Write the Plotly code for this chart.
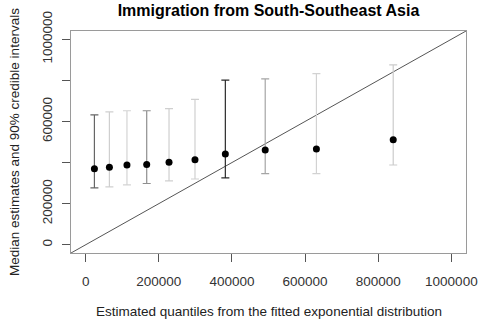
import plotly.graph_objects as go

# Data
quantiles = [24000, 65000, 113000, 167000, 228000, 299000, 382000, 491000, 631000, 841000]
medians   = [370000, 377000, 388000, 391000, 401000, 414000, 442000, 461000, 466000, 511000]
lower     = [277000, 282000, 291000, 298000, 311000, 320000, 325000, 346000, 346000, 388000]
upper     = [632000, 647000, 652000, 652000, 662000, 707000, 801000, 807000, 833000, 875000]

y_tickvals = [0, 200000, 400000, 600000, 800000, 1000000]
y_ticktext = ["0", "200000", "", "600000", "", "1000000"]
x_tickvals = [0, 200000, 400000, 600000, 800000, 1000000]
x_ticktext = ["0", "200000", "400000", "600000", "800000", "1000000"]

# style: apparent grey of each interval line (anti-aliasing in the original)
bar_colors = ["#666666", "#cfcfcf", "#d4d4d4", "#8f8f8f", "#cfcfcf",
              "#d0d0d0", "#2a2a2a", "#a5a5a5", "#d2d2d2", "#cccccc"]

axis_range = [-40000, 1040000]
FONT = "Liberation Sans, Arial, sans-serif"

fig = go.Figure()

# y = x reference line spanning the plot region
fig.add_trace(go.Scatter(x=axis_range, y=axis_range, mode="lines",
                         line=dict(color="#555555", width=1), hoverinfo="skip",
                         showlegend=False))

for i in range(len(quantiles)):
    fig.add_trace(go.Scatter(
        x=[quantiles[i]], y=[medians[i]], mode="markers",
        marker=dict(color="black", size=7),
        error_y=dict(type="data", symmetric=False,
                     array=[upper[i] - medians[i]],
                     arrayminus=[medians[i] - lower[i]],
                     color=bar_colors[i], thickness=1.2, width=4),
        showlegend=False))

fig.update_layout(
    width=482, height=321,
    margin=dict(l=71, r=16, t=31, b=68, autoexpand=False),
    plot_bgcolor="white", paper_bgcolor="white",
    font=dict(family=FONT, size=13, color="#333333"),
    title=dict(text="<b>Immigration from South-Southeast Asia</b>",
               x=0.557, xanchor="center",
               y=0.968, yanchor="middle",
               font=dict(family=FONT, size=16, color="black")),
    xaxis=dict(range=axis_range, tickvals=x_tickvals, ticktext=x_ticktext,
               showgrid=False, zeroline=False, showline=True, mirror=True,
               linecolor="#9a9a9a", linewidth=1, automargin=False,
               ticks="outside", ticklen=8, tickcolor="#555555", tickwidth=1,
               ticklabelstandoff=8,
               tickfont=dict(family=FONT, size=13.5, color="#333333")),
    yaxis=dict(range=axis_range, tickvals=y_tickvals, ticktext=y_ticktext,
               showgrid=False, zeroline=False, showline=True, mirror=True,
               linecolor="#9a9a9a", linewidth=1, automargin=False,
               ticks="outside", ticklen=8, tickcolor="#555555", tickwidth=1,
               tickangle=-90, ticklabelstandoff=5,
               tickfont=dict(family=FONT, size=13.5, color="#333333")),
    annotations=[
        dict(text="Estimated quantiles from the fitted exponential distribution",
             xref="paper", yref="paper", x=0.5, y=0, yshift=-(311.7 - 253),
             xanchor="center", yanchor="middle", showarrow=False,
             font=dict(family=FONT, size=13.5, color="#222222")),
        dict(text="Median estimates and 90% credible intervals",
             xref="paper", yref="paper", x=0, xshift=-(71 - 14), y=0.5,
             xanchor="center", yanchor="middle", textangle=-90, showarrow=False,
             font=dict(family=FONT, size=13.5, color="#222222")),
    ],
)

fig.write_html("out.html")
